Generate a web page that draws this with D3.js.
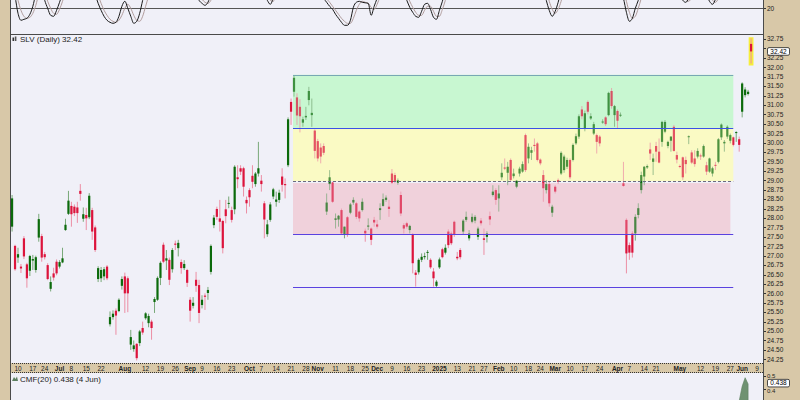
<!DOCTYPE html>
<html><head><meta charset="utf-8">
<script src="https://cdn.jsdelivr.net/npm/d3@7/dist/d3.min.js"></script>
<style>
html,body{margin:0;padding:0;background:#d8c8a8;}
svg{display:block;}
text{font-family:"Liberation Sans",Arial,sans-serif;}
</style></head><body>
<svg id="chart" width="800" height="400"></svg>
<script>
// ---------------- DATA ----------------
const symbol = "SLV";
const lastPrice = 32.42;
const firstDay = "2024-06-06";
const lastAxisDay = "2025-06-13";
const holidays = ["2024-06-19","2024-07-04","2024-09-02","2024-11-28","2024-12-25","2025-01-01","2025-01-09","2025-01-20","2025-02-17","2025-04-18","2025-05-26"];

const opens = [27.77,27.26,26.95,26.71,27.46,26.77,26.60,26.87,26.62,27.48,
27.52,27.04,26.75,26.12,26.53,26.84,26.71,26.82,27.68,28.11,
28.32,28.30,28.28,28.72,27.98,28.08,28.02,28.21,27.75,26.38,
26.40,26.45,26.71,25.18,25.37,25.54,25.53,26.20,26.45,26.40,
24.64,24.52,24.66,24.68,25.08,25.34,25.21,25.25,25.77,25.83,
26.41,27.29,26.87,26.89,26.64,27.32,27.20,26.83,26.67,26.62,
25.83,25.67,26.36,26.22,25.69,25.94,26.01,26.57,27.81,28.24,
27.99,27.92,28.23,28.38,28.21,28.23,29.08,29.32,29.32,28.48,
28.74,29.12,28.90,29.18,28.99,28.39,27.57,27.95,28.57,28.43,
28.48,29.10,28.90,29.40,31.08,31.35,31.20,30.95,30.53,30.67,
31.13,30.73,30.32,30.04,29.87,29.91,28.17,28.90,28.94,27.95,
27.96,28.21,27.57,28.02,28.14,28.41,28.39,28.17,28.21,27.66,
27.77,27.72,27.95,27.83,28.21,28.32,28.48,28.30,29.18,29.14,
28.94,28.61,27.81,27.86,27.68,27.55,26.55,26.56,26.89,26.96,
27.08,26.89,26.58,26.20,26.69,27.17,27.08,27.64,27.59,27.90,
26.97,27.15,27.64,27.95,27.46,27.90,27.93,27.50,27.93,27.46,
27.50,28.05,28.61,28.74,28.52,29.08,29.34,29.20,29.54,29.11,
28.83,29.18,29.23,30.20,29.58,29.73,29.94,29.98,29.55,29.14,
28.74,28.90,28.14,28.83,29.01,29.18,29.27,29.36,29.54,29.54,
29.98,30.16,30.88,30.38,31.08,30.64,30.24,30.20,30.16,30.55,
30.67,30.73,31.37,30.73,30.84,30.72,28.92,27.95,27.28,27.59,
27.59,28.08,28.74,29.10,29.34,29.82,29.49,29.91,29.76,30.02,
30.29,29.91,30.05,30.42,29.67,29.38,29.61,29.54,30.15,29.74,
29.58,29.63,29.66,29.63,29.40,29.23,29.18,29.41,29.49,30.14,
29.98,30.16,30.05,30.14,30.27,30.09,30.82,31.26,31.29,32.62];
const highs = [28.61,27.29,27.21,26.78,27.52,26.81,27.02,27.02,27.00,28.11,
27.58,27.10,26.80,26.45,26.68,26.90,26.88,27.21,27.98,28.72,
28.43,28.36,28.43,28.90,28.28,28.27,28.66,28.27,27.80,26.72,
26.70,26.70,26.75,25.52,25.55,25.60,25.87,26.45,26.55,26.45,
25.03,24.75,24.68,25.03,25.25,25.50,25.46,25.30,25.90,26.45,
26.85,27.35,27.15,26.95,27.20,27.40,27.42,26.90,26.88,26.65,
25.90,25.90,26.57,26.36,25.95,26.00,26.17,27.30,28.08,28.30,
28.48,27.95,28.48,28.57,28.30,29.40,29.40,29.40,29.36,28.57,
28.79,29.40,29.22,30.02,29.14,28.45,27.95,28.42,28.80,28.70,
28.75,29.32,29.05,30.67,31.17,31.79,31.31,31.15,30.69,30.95,
31.48,31.17,30.35,30.10,29.98,29.98,28.65,29.27,28.96,28.12,
28.08,28.25,27.77,28.05,28.40,28.55,28.43,28.20,28.52,27.72,
27.99,27.75,28.03,27.95,28.39,28.65,28.60,28.48,29.30,29.20,
29.05,28.70,27.86,27.90,27.82,27.60,26.62,26.93,27.06,27.08,
27.15,26.93,26.67,26.35,26.95,27.21,27.30,27.70,27.64,27.93,
27.10,27.20,27.97,28.17,27.68,28.12,28.08,27.77,28.00,27.72,
27.65,28.17,28.87,28.79,28.87,29.45,29.58,29.49,29.58,29.31,
29.01,29.36,29.50,30.24,29.98,29.89,30.11,30.02,29.58,29.27,
29.01,28.96,28.35,28.87,29.05,29.77,29.68,29.60,29.58,29.98,
30.24,30.75,30.97,30.85,31.12,30.78,30.55,30.24,30.20,30.62,
30.70,31.35,31.45,31.00,30.88,30.80,29.49,27.99,27.35,27.65,
28.10,28.39,29.23,29.38,29.42,30.00,29.71,30.02,30.11,30.58,
30.60,30.05,30.17,30.47,29.76,29.42,29.63,29.63,30.19,29.80,
29.80,29.85,29.71,29.95,29.49,29.60,29.36,29.49,30.12,30.51,
30.07,30.46,30.24,30.16,30.30,30.16,31.60,31.47,31.40,32.77];
const lows = [27.64,26.60,26.81,26.54,26.91,26.15,26.46,26.62,26.55,27.37,
26.84,26.90,26.35,26.05,26.34,26.48,26.66,26.80,27.66,28.08,
27.77,28.05,27.87,28.46,27.90,27.68,27.97,27.42,27.10,26.30,
26.30,26.35,26.35,25.12,25.30,24.90,25.50,26.10,25.48,25.50,
24.50,24.45,24.22,24.60,24.90,25.30,25.10,24.77,25.48,25.80,
26.22,26.80,26.62,26.22,26.55,27.15,26.98,26.52,26.62,26.17,
25.25,25.60,26.04,25.21,25.60,25.56,25.83,26.50,27.73,27.95,
27.64,27.06,27.86,28.26,27.88,28.10,28.79,29.14,28.57,28.12,
28.30,28.79,28.83,29.10,28.70,27.46,27.50,27.90,28.50,28.30,
28.40,28.70,28.52,29.35,30.47,31.22,30.47,30.27,30.42,30.60,
30.99,30.42,29.58,29.50,29.45,29.67,28.08,28.74,28.40,27.72,
27.77,27.55,27.46,27.50,28.10,28.35,27.97,27.90,28.17,27.37,
27.68,27.28,27.77,27.72,27.95,28.30,28.43,28.03,28.90,28.92,
28.88,28.05,27.59,27.72,27.59,26.53,26.18,26.50,26.83,26.90,
26.89,26.65,26.18,26.16,26.65,26.93,27.03,27.20,27.28,27.50,
26.88,26.90,27.55,27.90,27.40,27.86,27.86,27.42,27.80,27.02,
27.35,27.81,28.57,28.35,28.17,29.01,29.27,28.87,28.96,29.05,
28.79,29.10,29.20,29.22,29.45,29.54,29.76,29.50,29.40,28.43,
28.65,28.30,28.03,28.65,28.90,29.14,29.20,29.30,29.03,29.50,
29.94,30.10,30.62,30.30,30.75,30.60,30.20,29.71,29.90,30.50,
30.44,30.70,30.90,30.42,30.38,30.68,28.83,26.53,26.89,26.95,
27.40,27.99,28.65,28.87,29.30,29.54,29.14,29.49,29.45,29.89,
30.25,29.85,29.76,29.76,29.45,29.32,29.01,29.18,29.96,29.43,
29.36,29.58,29.54,29.60,29.14,29.20,29.10,29.27,29.45,30.07,
29.76,30.10,29.98,29.90,30.02,29.76,30.67,31.20,31.25,32.10];
const closes = [28.52,26.64,27.04,26.66,26.98,26.40,26.99,26.91,26.96,27.97,
26.95,26.96,26.38,26.30,26.42,26.53,26.83,26.93,27.82,28.46,
28.10,28.13,28.13,28.64,28.10,27.99,28.59,27.64,27.15,26.67,
26.62,26.64,26.40,25.37,25.46,25.41,25.83,26.38,26.00,26.00,
24.84,24.62,24.28,24.99,24.96,25.47,25.40,25.08,25.85,26.41,
26.81,26.84,26.93,26.36,27.15,27.29,27.34,26.67,26.78,26.28,
25.54,25.75,26.20,25.48,25.83,25.91,26.09,27.26,28.01,28.03,
27.90,27.20,28.05,28.40,27.95,29.36,29.03,29.23,28.83,28.39,
28.55,28.96,29.18,29.32,28.90,27.96,27.83,28.36,28.76,28.49,
28.67,28.88,28.87,30.62,30.82,31.72,30.72,30.70,30.62,30.71,
31.37,30.79,29.78,29.58,29.63,29.73,28.41,29.08,28.43,27.99,
28.06,27.59,27.77,27.57,28.36,28.48,28.03,27.99,28.43,27.59,
27.80,27.42,27.88,27.77,28.26,28.50,28.54,28.24,28.94,28.96,
29.00,28.12,27.72,27.77,27.79,26.80,26.49,26.89,26.97,26.99,
27.10,26.69,26.40,26.31,26.90,26.96,27.21,27.28,27.33,27.55,
26.93,26.96,27.93,28.03,27.59,28.03,28.03,27.72,27.86,27.42,
27.59,27.96,28.70,28.48,28.65,29.20,29.31,29.36,29.01,29.18,
28.99,29.31,29.43,29.27,29.89,29.80,29.91,29.54,29.45,28.79,
28.90,28.39,28.30,28.70,28.96,29.73,29.63,29.54,29.08,29.94,
30.17,30.70,30.70,30.78,30.82,30.70,30.49,30.02,29.98,30.56,
30.49,31.32,30.97,30.97,30.58,30.74,28.85,27.06,27.08,27.08,
28.03,28.26,29.14,29.36,29.38,29.71,29.58,29.76,29.47,30.55,
30.55,30.02,30.16,29.78,29.55,29.37,29.08,29.43,30.17,29.47,
29.43,29.78,29.64,29.91,29.23,29.58,29.32,29.40,30.09,30.48,
30.02,30.42,30.20,29.94,30.28,29.94,31.57,31.41,31.35,32.42];

// Stochastic-type oscillator (top panel): [trading-day index, value]
const oscK = [[0,45],[1,32],[2,15],[3,8],[4,9],[5,10],[6,14],[7,22],[8,35],[9,48],[10,40],[11,28],[12,20],[13,13],[14,12],[15,18],[16,26],[17,35],[21,75],[25,60],[28,34],[29,25],[30,18],[31,12],[32,8],[33,6],[34,5],[35,6],[36,12],[37,22],[38,27],[39,20],[40,12],[41,5],[42,7],[43,15],[44,28],[45,40],[52,80],[59,55],[62,35],[63,28],[64,25],[65,23],[66,26],[67,34],[70,65],[78,75],[84,40],[86,28],[87,24],[88,30],[90,50],[97,80],[102,55],[105,30],[106,26],[107,22],[108,19],[109,14],[110,10],[111,6],[112,3],[113,3],[114,8],[115,21],[116,26],[117,27],[118,26],[119,25.5],[120,25],[121,13],[122,22],[123,30],[124,40],[128,55],[132,35],[133,28],[134,21],[135,16],[136,12],[137,11],[138,17],[139,24],[140,25],[141,19],[142,11],[143,9],[144,18],[145,27],[146,38],[155,70],[168,80],[176,55],[179,40],[180,28],[181,18],[182,12],[183,17],[184,26],[185,38],[193,80],[202,65],[205,40],[206,30],[207,16],[208,7],[209,10],[210,20],[211,28],[212,38],[218,60],[225,34],[226,28],[227,26],[228,30],[229,38],[232,45],[234,33],[235,27],[236,24],[237,29],[238,38],[243,70],[249,88]];
const oscD = [[0,50],[1,40],[2,28],[3,18],[4,12],[5,10],[6,11],[7,15],[8,23],[9,34],[10,40],[11,35],[12,27],[13,20],[14,15],[15,14],[16,19],[17,27],[18,36],[24,65],[28,42],[29,33],[30,25],[31,18],[32,13],[33,9],[34,7],[35,6],[36,8],[37,13],[38,20],[39,24],[40,20],[41,13],[42,8],[43,7],[44,12],[45,22],[46,32],[52,70],[62,42],[63,33],[64,29],[65,26],[66,25],[67,28],[68,36],[80,60],[86,34],[87,28],[88,27],[89,33],[92,50],[105,38],[106,30],[107,26],[108,22],[109,18],[110,14],[111,10],[112,7],[113,5],[114,5],[115,10],[116,18],[117,24],[118,27],[119,26],[120,25],[121,21],[122,19],[123,24],[124,32],[125,42],[132,42],[133,34],[134,27],[135,21],[136,16],[137,13],[138,13],[139,18],[140,22],[141,22],[142,17],[143,12],[144,12],[145,19],[146,28],[147,38],[165,70],[180,38],[181,27],[182,19],[183,15],[184,19],[185,27],[186,38],[195,70],[206,38],[207,27],[208,16],[209,10],[210,12],[211,20],[212,30],[213,40],[220,55],[226,34],[227,29],[228,27],[229,31],[230,38],[235,32],[236,28],[237,26],[238,30],[239,38],[249,80]];
const oscLevel = 20;

// Chaikin Money Flow (bottom panel): [trading-day index, value]
const cmf = [[243,0.22],[244,0.26],[245,0.31],[246,0.42],[247,0.485],[248,0.438]];
const cmfLast = "0.438", cmfDate = "4 Jun";

// Quadrant / fib drawing
const fibHigh = 31.80, fibLow = 26.16;
const fibStart = "2024-10-22", fibEnd = "2025-05-28", fibPinkEnd = "2025-05-27";

const priceTicks = ["24.25","24.50","24.75","25.00","25.25","25.50","25.75","26.00","26.25","26.50","26.75","27.00","27.25","27.50","27.75","28.00","28.25","28.50","28.75","29.00","29.25","29.50","29.75","30.00","30.25","30.50","30.75","31.00","31.25","31.50","31.75","32.00","32.25","32.50","32.75"];
const cmfTicks = ["0.5","0.4"];
const tickDates = ["2024-06-10","2024-06-17","2024-06-24","2024-07-01","2024-07-08","2024-07-15","2024-07-22","2024-08-01","2024-08-12","2024-08-19","2024-08-26","2024-09-03","2024-09-09","2024-09-16","2024-09-23","2024-10-01","2024-10-07","2024-10-14","2024-10-21","2024-10-28","2024-11-01","2024-11-11","2024-11-18","2024-11-25","2024-12-02","2024-12-09","2024-12-16","2024-12-23","2025-01-02","2025-01-13","2025-01-21","2025-01-27","2025-02-03","2025-02-10","2025-02-18","2025-02-24","2025-03-03","2025-03-10","2025-03-17","2025-03-24","2025-04-01","2025-04-07","2025-04-14","2025-04-21","2025-05-01","2025-05-12","2025-05-19","2025-05-27","2025-06-02","2025-06-09"];
const tickLabels = ["10","17","24","Jul","8","15","22","Aug","12","19","26","Sep","9","16","23","Oct","7","14","21","28","Nov","11","18","25","Dec","9","16","23","2025","13","21","27","Feb","10","18","24","Mar","10","17","24","Apr","7","14","21","May","12","19","27","Jun","9"];

// ---------------- LAYOUT ----------------
const W = 800, H = 400, L = 10, R = 763;
const P = {top:[0,34], main:[34,363], axis:[363,373], cmf:[373,400]};
const C = {bg:"#f0f0f8", tan:"#d8c8a8", border:"#4a4a4a", up:"#0b6a0b", down:"#dc143c",
  upWick:"#78a878", downWick:"#ec8ea4", text:"#222"};

// trading calendar
const days = [];
(function(){
  let t = Date.parse(firstDay+"T00:00:00Z"); const end = Date.parse(lastAxisDay+"T00:00:00Z");
  while (t <= end) { const d = new Date(t); const wd = d.getUTCDay(); const s = d.toISOString().slice(0,10);
    if (wd>0 && wd<6 && !holidays.includes(s)) days.push(s); t += 86400000; }
})();
const dayIdx = new Map(days.map((s,i)=>[s,i]));

const x = d3.scaleLinear().domain([dayIdx.get("2024-06-10"), dayIdx.get("2025-06-09")]).range([18, 757]);
const y = d3.scaleLinear().domain([24.25, 32.75]).range([359.3, 39]);
const yOsc = d3.scaleLinear().domain([0, 20]).range([28.3, 8.3]);
const yCmf = d3.scaleLinear().domain([0.4, 0.5]).range([389, 375.7]);

const svg = d3.select("#chart");
const defs = svg.append("defs");
function clip(id, y0, y1){ defs.append("clipPath").attr("id",id).append("rect").attr("x",L+0.5).attr("y",y0).attr("width",R-L-0.5).attr("height",y1-y0); }
clip("cTop", P.top[0], P.top[1]); clip("cMain", P.main[0]+0.5, P.main[1]); clip("cCmf", P.cmf[0], P.cmf[1]);

svg.append("rect").attr("width",W).attr("height",H).attr("fill",C.tan);
[P.top,P.main,P.cmf].forEach(p=>svg.append("rect").attr("x",L).attr("y",p[0]).attr("width",R-L).attr("height",p[1]-p[0]).attr("fill",C.bg));

// ---------- Fib / quadrant zones ----------
const fx0 = x(dayIdx.get(fibStart)) - 1, fx1 = x(dayIdx.get(fibEnd)), fxp = x(dayIdx.get(fibPinkEnd));
const lvl = f => fibLow + (fibHigh - fibLow) * f;
const zones = [
  {a:1, b:0.75, fill:"#c8f7d2", x1:fx1, off:0},
  {a:0.75, b:0.5, fill:"#fafac4", x1:fx1, off:0},
  {a:0.5, b:0.25, fill:"#f0d2dc", x1:fxp, off:2}
];
const gMain = svg.append("g").attr("clip-path","url(#cMain)");
gMain.selectAll("rect.zone").data(zones).join("rect").attr("class","zone")
  .attr("x",fx0).attr("width",d=>d.x1-fx0)
  .attr("y",d=>y(lvl(d.a))+d.off).attr("height",d=>y(lvl(d.b))-y(lvl(d.a))-d.off)
  .attr("fill",d=>d.fill);

// ---------- Candles ----------
const candles = opens.map((o,j)=>({j, o, h:highs[j], l:lows[j], c:closes[j]}));
const last = candles[candles.length-1];
gMain.append("rect").attr("x",x(last.j)-2.4).attr("width",4.8)
  .attr("y",y(last.h)-1).attr("height",y(last.l)-y(last.h)+3).attr("fill","#f6ee3a");
gMain.selectAll("line.wick").data(candles).join("line").attr("class","wick")
  .attr("x1",d=>x(d.j)).attr("x2",d=>x(d.j)).attr("y1",d=>y(d.h)).attr("y2",d=>y(d.l))
  .attr("stroke",d=>d.c>=d.o?C.upWick:C.downWick).attr("stroke-width",1);
gMain.selectAll("rect.body").data(candles).join("rect").attr("class","body")
  .attr("x",d=>x(d.j)-1.1).attr("width",2.2)
  .attr("y",d=>y(Math.max(d.o,d.c))).attr("height",d=>Math.max(1,Math.abs(y(d.o)-y(d.c))))
  .attr("fill",d=>d.c>=d.o?C.up:C.down);
// tint of candles inside zones
gMain.selectAll("rect.tint").data(zones).join("rect").attr("class","tint")
  .attr("x",fx0).attr("width",d=>d.x1-fx0)
  .attr("y",d=>y(lvl(d.a))+d.off).attr("height",d=>y(lvl(d.b))-y(lvl(d.a))-d.off)
  .attr("fill",d=>d.fill).attr("opacity",0.28);

// fib lines
const fibLines = [
  {f:1, color:"#78a8b4", dash:null},
  {f:0.75, color:"#3a52e6", dash:null},
  {f:0.5, color:"#6a6a80", dash:"3,2"},
  {f:0.25, color:"#5a42e0", dash:null},
  {f:0, color:"#5a42e0", dash:null}
];
gMain.selectAll("line.fib").data(fibLines).join("line").attr("class","fib")
  .attr("x1",fx0).attr("x2",fx1).attr("y1",d=>Math.round(y(lvl(d.f)))+0.5).attr("y2",d=>Math.round(y(lvl(d.f)))+0.5)
  .attr("stroke",d=>d.color).attr("stroke-width",1).attr("stroke-dasharray",d=>d.dash);

// ---------- Oscillator ----------
const gTop = svg.append("g").attr("clip-path","url(#cTop)");
gTop.append("line").attr("x1",L).attr("x2",R).attr("y1",Math.round(yOsc(oscLevel))+0.5).attr("y2",Math.round(yOsc(oscLevel))+0.5)
  .attr("stroke","#555").attr("stroke-width",1);
const oscLine = d3.line().x(d=>x(d[0])).y(d=>yOsc(d[1])).curve(d3.curveMonotoneX);
gTop.append("path").attr("d",oscLine(oscD)).attr("fill","none").attr("stroke","#b09c9c").attr("stroke-width",1);
gTop.append("path").attr("d",oscLine(oscK)).attr("fill","none").attr("stroke","#1a1a1a").attr("stroke-width",1);

// ---------- CMF ----------
const gCmf = svg.append("g").attr("clip-path","url(#cCmf)");
const cmfArea = d3.area().x(d=>x(d[0])).y0(yCmf(0)).y1(d=>yCmf(d[1]));
gCmf.append("path").attr("d",cmfArea(cmf)).attr("fill","#6f9272").attr("stroke","#5d7f60").attr("stroke-width",0.6);

// ---------- Date axis ----------
svg.append("rect").attr("x",L).attr("y",P.axis[0]).attr("width",R-L).attr("height",P.axis[1]-P.axis[0]).attr("fill",C.tan);
[P.axis[0]+0.5, P.axis[1]-0.5].forEach(yy=>svg.append("line").attr("x1",L).attr("x2",R).attr("y1",yy).attr("y2",yy)
  .attr("stroke","#333").attr("stroke-width",1).attr("stroke-dasharray","1,1"));
svg.append("g").selectAll("text").data(tickDates).join("text")
  .attr("x",d=>x(dayIdx.get(d))).attr("y",371.3).attr("text-anchor","middle")
  .attr("font-size","6.5px").attr("fill",C.text)
  .attr("font-weight",(d,i)=>/^\d{1,2}$/.test(tickLabels[i])?"normal":"bold")
  .text((d,i)=>tickLabels[i]);

// ---------- Right axis ----------
function valueBox(v, yy){
  const g = svg.append("g");
  g.append("rect").attr("x",R+4.5).attr("y",yy-3.8).attr("width",22).attr("height",7.6).attr("rx",1.5)
    .attr("fill","#fff").attr("stroke","#222").attr("stroke-width",0.8);
  g.append("text").attr("x",R+15.5).attr("y",yy+2.2).attr("text-anchor","middle").attr("font-size","6.5px")
    .attr("fill","#000").text(v);
}
const boxY = y(lastPrice);
const gR = svg.append("g");
gR.selectAll("line.pt").data(priceTicks).join("line").attr("x1",R).attr("x2",R+3)
  .attr("y1",d=>Math.round(y(+d))+0.5).attr("y2",d=>Math.round(y(+d))+0.5).attr("stroke","#333");
// labels hidden behind the last-price box are not drawn (as in the reference)
gR.selectAll("text.pt").data(priceTicks.filter(d=>Math.abs(y(+d)-boxY)>6)).join("text")
  .attr("x",R+4).attr("y",d=>y(+d)+2.3)
  .attr("font-size","6.5px").attr("fill",C.text).text(d=>d);
valueBox(lastPrice.toFixed(2), boxY);
gR.append("line").attr("x1",R).attr("x2",R+3).attr("y1",Math.round(yOsc(oscLevel))+0.5).attr("y2",Math.round(yOsc(oscLevel))+0.5).attr("stroke","#333");
gR.append("text").attr("x",R+4).attr("y",yOsc(oscLevel)+2.3).attr("font-size","6.5px").attr("fill",C.text).text(String(oscLevel));
gR.selectAll("line.ct").data(cmfTicks).join("line").attr("x1",R).attr("x2",R+3)
  .attr("y1",d=>Math.round(yCmf(+d))+0.5).attr("y2",d=>Math.round(yCmf(+d))+0.5).attr("stroke","#333");
gR.selectAll("text.ct").data(cmfTicks).join("text").attr("x",R+4)
  .attr("y",d=>(+d===0.4? yCmf(+d)+4.2 : yCmf(+d)+2.3))
  .attr("font-size","6px").attr("fill",C.text).text(d=>d);
valueBox(cmfLast, yCmf(+cmfLast)-0.8);

// ---------- Borders ----------
svg.append("line").attr("x1",L+0.5).attr("x2",L+0.5).attr("y1",0).attr("y2",H).attr("stroke",C.border);
svg.append("line").attr("x1",R+0.5).attr("x2",R+0.5).attr("y1",0).attr("y2",H).attr("stroke",C.border);
svg.append("line").attr("x1",L).attr("x2",R).attr("y1",P.main[0]+0.5).attr("y2",P.main[0]+0.5).attr("stroke",C.border);

// ---------- Titles ----------
const tg = svg.append("g");
tg.append("rect").attr("x",12.5).attr("y",37.5).attr("width",1.6).attr("height",3.5).attr("fill","#333");
tg.append("rect").attr("x",14.8).attr("y",36.5).attr("width",1.6).attr("height",4.5).attr("fill","#555");
tg.append("text").attr("x",20).attr("y",41.6).attr("font-size","8px").attr("fill",C.text)
  .text(`${symbol} (Daily) ${lastPrice.toFixed(2)}`);
tg.append("path").attr("d","M12,381 L14,377 L15.5,379 L17,376.5 L18,381 Z").attr("fill","#5d7f60");
tg.append("text").attr("x",20).attr("y",381.6).attr("font-size","8px").attr("fill",C.text)
  .text(`CMF(20) ${cmfLast} (${cmfDate})`);
</script>
</body></html>
